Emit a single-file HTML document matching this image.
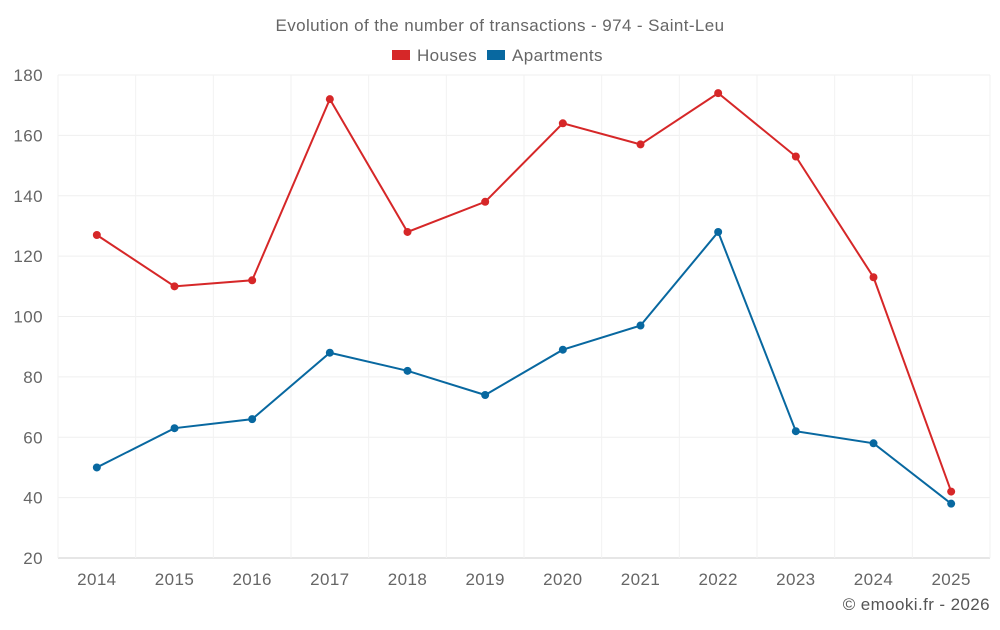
<!DOCTYPE html>
<html><head><meta charset="utf-8"><style>
body{margin:0;background:#fff;font-family:"Liberation Sans",sans-serif}
svg text{font-family:"Liberation Sans",sans-serif;letter-spacing:0.4px}
</style></head><body>
<svg id="chart" width="1000" height="625" xmlns="http://www.w3.org/2000/svg">
<text x="500" y="31" text-anchor="middle" font-size="17" fill="#666">Evolution of the number of transactions - 974 - Saint-Leu</text>
<g>
<g><rect x="392" y="50" width="18" height="10" fill="#d62728"/><text x="417" y="61" font-size="17" fill="#666">Houses</text></g>
<g><rect x="487" y="50" width="18" height="10" fill="#0868a0"/><text x="512" y="61" font-size="17" fill="#666">Apartments</text></g>
</g>
<g id="grid"></g>
<g id="axes"></g>
<g id="series"></g>
<text x="990" y="610" text-anchor="end" font-size="17" fill="#555">© emooki.fr - 2026</text>
</svg>
<script>
const categories=["2014","2015","2016","2017","2018","2019","2020","2021","2022","2023","2024","2025"];
const houses=[127,110,112,172,128,138,164,157,174,153,113,42];
const apartments=[50,63,66,88,82,74,89,97,128,62,58,38];
const yTicks=[20,40,60,80,100,120,140,160,180];
const L=58,R=990,T=75,B=558,yMin=20,yMax=180;
const NS="http://www.w3.org/2000/svg";
const bw=(R-L)/categories.length;
const x=i=>L+bw*(i+0.5);
const y=v=>B-(v-yMin)/(yMax-yMin)*(B-T);
function mk(tag,attrs,parent){const e=document.createElementNS(NS,tag);for(const k in attrs)e.setAttribute(k,attrs[k]);parent.appendChild(e);return e;}
const grid=document.getElementById('grid'),axes=document.getElementById('axes'),series=document.getElementById('series');
yTicks.forEach(t=>{
 const g=mk('line',{x1:L,x2:R,y1:y(t),y2:y(t),stroke:t===yMin?'#ccc':'#efefef','stroke-width':1},grid);
 
 
 const tx=mk('text',{x:L-15,y:y(t)+6,'text-anchor':'end','font-size':17,fill:'#666'},axes);
 tx.textContent=t;
 
 
});
for(let i=0;i<=categories.length;i++){
 const g=mk('line',{x1:L+bw*i,x2:L+bw*i,y1:T,y2:B,stroke:'#f2f2f2','stroke-width':1},grid);
 
 
}
categories.forEach((c,i)=>{
 const tx=mk('text',{x:x(i),y:B+27,'text-anchor':'middle','font-size':17,fill:'#666'},axes);
 tx.textContent=c;
 
 
});
function draw(vals,color,name){
 const p=mk('polyline',{points:vals.map((v,i)=>x(i)+','+y(v)).join(' '),fill:'none',stroke:color,'stroke-width':2},series);
 
 
 vals.forEach((v,i)=>{
  const c=mk('circle',{cx:x(i),cy:y(v),r:4,fill:color},series);
  
  
 });
}
draw(houses,'#d62728','houses');
draw(apartments,'#0868a0','apartments');
</script>
</body></html>
